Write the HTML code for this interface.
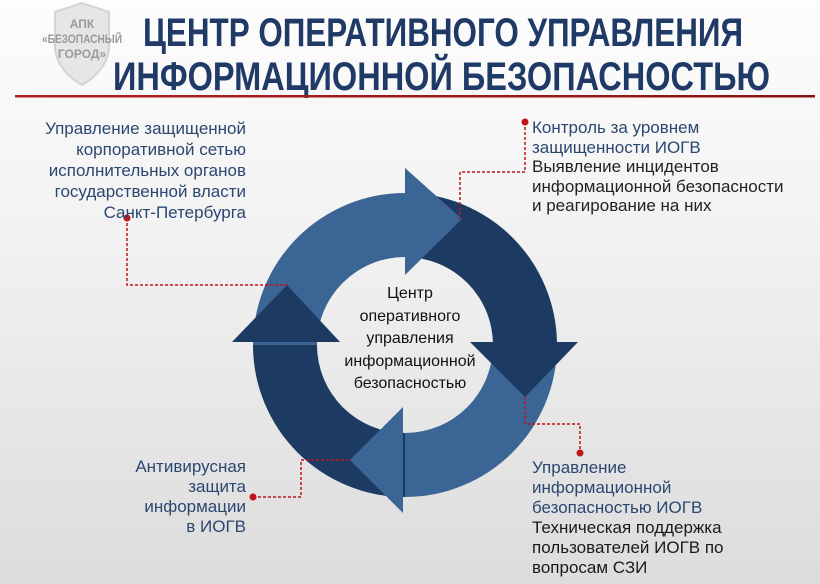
<!DOCTYPE html>
<html><head><meta charset="utf-8"><style>
html,body{margin:0;padding:0}
body{width:820px;height:584px;overflow:hidden;position:relative;background:linear-gradient(#fdfdfd 0%,#f2f2f2 40%,#dcdcdc 100%);font-family:"Liberation Sans","DejaVu Sans",sans-serif}
.t{position:absolute;font-size:17px;line-height:20px;color:#2b4770;white-space:nowrap}
</style></head><body>
<svg width="820" height="584" style="position:absolute;left:0;top:0">
<defs><linearGradient id="rl" x1="0" x2="1"><stop offset="0" stop-color="#b02020"/><stop offset="1" stop-color="#8a1414"/></linearGradient></defs>
<path d="M55 12 L82 3 L109 12 L109 50 Q105 72 82 85 Q59 72 55 50 Z" fill="#e6e6e6" stroke="#d4d4d4" stroke-width="2"/>
<g font-family="Liberation Sans, sans-serif" font-weight="bold" fill="#9a9a9a" font-size="12" text-anchor="middle">
<text x="82" y="28">АПК</text>
<text x="82" y="43" textLength="80" lengthAdjust="spacingAndGlyphs">«БЕЗОПАСНЫЙ</text>
<text x="82" y="58">ГОРОД»</text>
</g>
<g font-family="Liberation Sans, sans-serif" font-weight="bold" fill="#1f3a66" font-size="40">
<text x="143" y="46" textLength="600" lengthAdjust="spacingAndGlyphs">ЦЕНТР ОПЕРАТИВНОГО УПРАВЛЕНИЯ</text>
<text x="113" y="90" textLength="657" lengthAdjust="spacingAndGlyphs">ИНФОРМАЦИОННОЙ БЕЗОПАСНОСТЬЮ</text>
</g>
<rect x="15" y="95" width="800" height="2.5" fill="url(#rl)"/>
<g>
<path d="M253 345 A152 152 0 0 1 405 193 L405 257 A88 88 0 0 0 317 345 Z" fill="#3b6595"/>
<path d="M405 193 A152 152 0 0 1 557 345 L493 345 A88 88 0 0 0 405 257 Z" fill="#1d3a63"/>
<path d="M557 345 A152 152 0 0 1 405 497 L405 433 A88 88 0 0 0 493 345 Z" fill="#3b6595"/>
<path d="M405 497 A152 152 0 0 1 253 345 L317 345 A88 88 0 0 0 405 433 Z" fill="#1d3a63"/>
<polygon points="405,168 462,219 405,275" fill="#3b6595"/>
<polygon points="470,342 578,342 525,397" fill="#1d3a63"/>
<polygon points="403,407 403,513 350,460" fill="#3b6595"/>
<polygon points="232,342 340,342 287,285" fill="#1d3a63"/>
</g>
<g fill="none" stroke="#c0141c" stroke-width="1.5" stroke-dasharray="3,2">
<path d="M127 218 V285 H290"/>
<path d="M525 122 V172 H460 V220"/>
<path d="M525 396 V424 H580 V453"/>
<path d="M253 497 H301 V460 H350"/>
</g>
<g fill="#c0141c"><circle cx="127" cy="218" r="3.5"/><circle cx="525" cy="122" r="3.5"/><circle cx="580" cy="453" r="3.5"/><circle cx="253" cy="497" r="3.5"/></g>
</svg>
<div class="t" style="right:574px;top:118px;text-align:right;line-height:21px">Управление защищенной<br>корпоративной сетью<br>исполнительных органов<br>государственной власти<br>Санкт-Петербурга</div>
<div class="t" style="left:532px;top:118px;line-height:19.5px">Контроль за уровнем<br>защищенности ИОГВ<br><span style="color:#222">Выявление инцидентов<br>информационной безопасности<br>и реагирование на них</span></div>
<div class="t" style="left:532px;top:458px;line-height:20px">Управление<br>информационной<br>безопасностью ИОГВ<br><span style="color:#1a1a1a">Техническая поддержка<br>пользователей ИОГВ по<br>вопросам СЗИ</span></div>
<div class="t" style="right:574px;top:457px;text-align:right;line-height:20px">Антивирусная<br>защита<br>информации<br>в ИОГВ</div>
<div style="position:absolute;left:325px;top:283px;width:170px;text-align:center;font-size:16px;line-height:22.5px;color:#111">Центр<br>оперативного<br>управления<br>информационной<br>безопасностью</div>
</body></html>
